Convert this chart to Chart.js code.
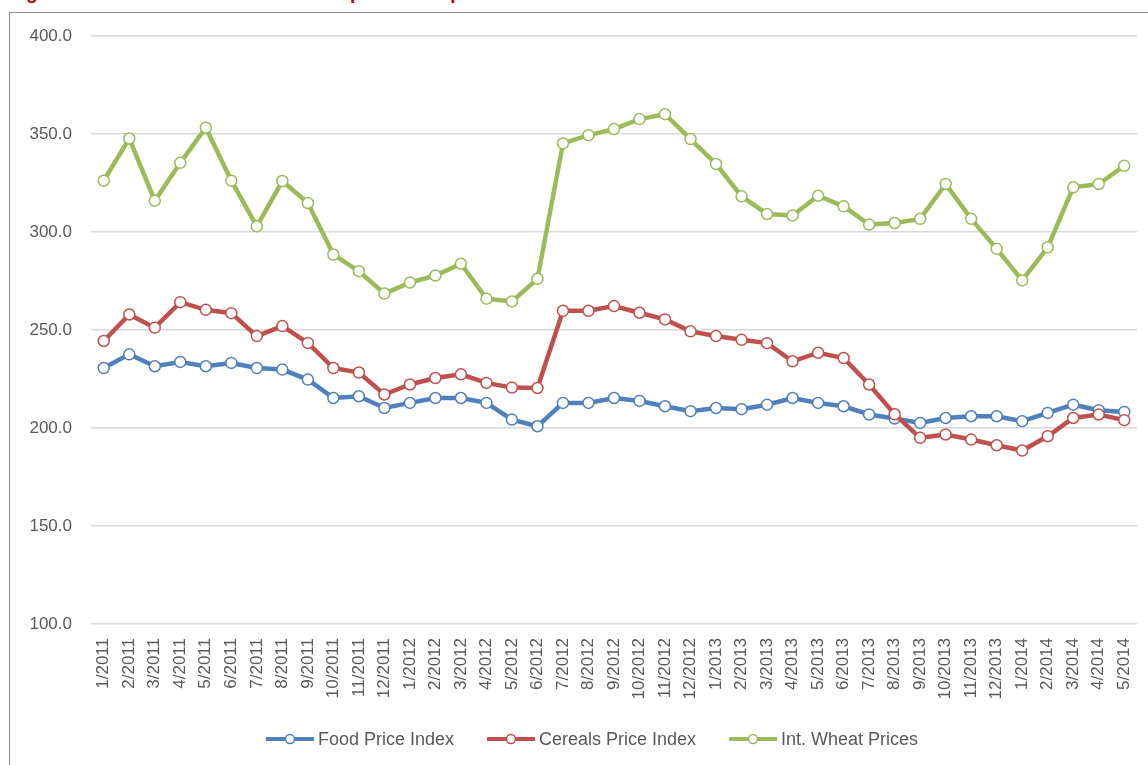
<!DOCTYPE html>
<html>
<head>
<meta charset="utf-8">
<script src="https://cdn.jsdelivr.net/npm/chart.js@4.4.1/dist/chart.umd.min.js"></script>
<style>
  html, body { margin: 0; padding: 0; background: #fff; overflow: hidden; }
  #title {
    position: absolute; left: 9px; top: -18px;
    font: bold 19px "Liberation Sans", Arial, sans-serif; color: #c00000;
    white-space: nowrap; line-height: 22px;
  }
  #frame {
    position: absolute; left: 9px; top: 12px; width: 1300px; height: 900px;
    border: 1.5px solid #8c8c8c; box-sizing: border-box;
  }
  #wrap { position: absolute; left: 0; top: 0; width: 1148px; height: 765px; }
</style>
</head>
<body>
<div id="title">Figure 10: Trend in international food prices and price indices</div>
<div id="frame"></div>
<div id="wrap"><canvas id="priceChart"></canvas></div>
<script>
const months = [
  "1/2011", "2/2011", "3/2011", "4/2011", "5/2011", "6/2011", "7/2011", "8/2011", "9/2011", "10/2011", "11/2011", "12/2011",
  "1/2012", "2/2012", "3/2012", "4/2012", "5/2012", "6/2012", "7/2012", "8/2012", "9/2012", "10/2012", "11/2012", "12/2012",
  "1/2013", "2/2013", "3/2013", "4/2013", "5/2013", "6/2013", "7/2013", "8/2013", "9/2013", "10/2013", "11/2013", "12/2013",
  "1/2014", "2/2014", "3/2014", "4/2014", "5/2014"
];

const foodIndex = [
  230.6, 237.6, 231.5, 233.7, 231.5, 233.2, 230.6, 229.8, 224.7, 215.3, 216.2, 210.2,
  212.8, 215.3, 215.3, 212.8, 204.3, 200.9, 212.8, 212.8, 215.3, 213.8, 211.1, 208.6,
  210.2, 209.6, 211.9, 215.3, 212.8, 211.1, 206.9, 204.8, 202.6, 205.1, 206.0, 206.0,
  203.5, 207.7, 211.9, 209.1, 208.2
];

const cerealsIndex = [
  244.4, 257.9, 251.2, 264.2, 260.3, 258.6, 246.9, 252.0, 243.4, 230.6, 228.3, 217.1,
  222.2, 225.5, 227.4, 223.0, 220.6, 220.4, 259.8, 259.8, 262.2, 258.8, 255.4, 249.3,
  246.9, 245.0, 243.3, 234.0, 238.4, 235.7, 222.2, 207.0, 195.0, 196.7, 194.1, 191.2,
  188.5, 195.8, 205.1, 206.9, 204.0
];

const wheatPrices = [
  326.2, 347.7, 316.0, 335.3, 353.2, 326.2, 302.9, 326.0, 314.8, 288.5, 280.0, 268.6,
  274.2, 277.8, 283.8, 266.0, 264.6, 276.1, 345.2, 349.4, 352.5, 357.6, 360.1, 347.4,
  334.7, 318.2, 309.2, 308.4, 318.5, 313.1, 303.8, 304.6, 306.7, 324.5, 306.7, 291.4,
  275.3, 292.2, 322.8, 324.5, 333.8
];

const yTicks = [100, 150, 200, 250, 300, 350, 400];

const blue = "#4f81bd";
const red = "#c0504d";
const green = "#9bbb59";
const textFont = "'Liberation Sans', Arial, sans-serif";

// Excel-style legend: a short line with a marker, then the label
const lineLegend = {
  id: "lineLegend",
  afterDraw(chart, args, opts) {
    const ctx = chart.ctx;
    ctx.save();
    ctx.font = `${opts.fontSize}px ${textFont}`;
    ctx.textBaseline = "middle";
    const items = chart.data.datasets.map((ds) => ({
      ds: ds,
      w: opts.swatch + opts.textGap + ctx.measureText(ds.label).width,
    }));
    const total = items.reduce((s, it) => s + it.w, 0) + opts.gap * (items.length - 1);
    let x = opts.centerX - total / 2;
    const y = opts.y;
    items.forEach((it) => {
      ctx.strokeStyle = it.ds.borderColor;
      ctx.lineWidth = 4;
      ctx.beginPath();
      ctx.moveTo(x, y);
      ctx.lineTo(x + opts.swatch, y);
      ctx.stroke();
      ctx.beginPath();
      ctx.arc(x + opts.swatch / 2, y, 4.5, 0, Math.PI * 2);
      ctx.fillStyle = "#fff";
      ctx.fill();
      ctx.lineWidth = 1.5;
      ctx.stroke();
      ctx.fillStyle = "#595959";
      ctx.fillText(it.ds.label, x + opts.swatch + opts.textGap, y + 1);
      x += it.w + opts.gap;
    });
    ctx.restore();
  },
};

function series(label, data, color, order) {
  return {
    label: label,
    data: data,
    borderColor: color,
    borderWidth: 4.5,
    tension: 0,
    pointRadius: 5.5,
    pointBorderWidth: 1.5,
    pointBackgroundColor: "#fff",
    pointBorderColor: color,
    pointStyle: "circle",
    order: order,
  };
}

new Chart(document.getElementById("priceChart"), {
  type: "line",
  data: {
    labels: months,
    datasets: [
      series("Food Price Index", foodIndex, blue, 3),
      series("Cereals Price Index", cerealsIndex, red, 2),
      series("Int. Wheat Prices", wheatPrices, green, 1),
    ],
  },
  plugins: [lineLegend],
  options: {
    responsive: true,
    maintainAspectRatio: false,
    animation: false,
    layout: { padding: { left: 0, right: 11, top: 36, bottom: 47 } },
    plugins: {
      tooltip: { enabled: false },
      legend: { display: false },
      lineLegend: { centerX: 592, y: 739, fontSize: 18, swatch: 48, textGap: 4, gap: 33 },
    },
    scales: {
      x: {
        offset: true,
        afterFit: (scale) => {
          scale.height = 94;
          scale.paddingLeft = 0;
          scale.paddingRight = 0;
        },
        grid: { display: false, drawTicks: false },
        border: { display: false },
        ticks: {
          autoSkip: false,
          maxRotation: 90,
          minRotation: 90,
          padding: 14,
          color: "#595959",
          font: { family: textFont, size: 17 },
        },
      },
      y: {
        min: 100,
        max: 400,
        afterBuildTicks: (scale) => { scale.ticks = yTicks.map((v) => ({ value: v })); },
        afterFit: (scale) => { scale.width = 91; },
        grid: { color: "#d9d9d9", lineWidth: 1.5, drawTicks: false },
        border: { display: false },
        ticks: {
          padding: 19,
          color: "#595959",
          font: { family: textFont, size: 17 },
          callback: (v) => v.toFixed(1),
        },
      },
    },
  },
});
</script>
</body>
</html>
